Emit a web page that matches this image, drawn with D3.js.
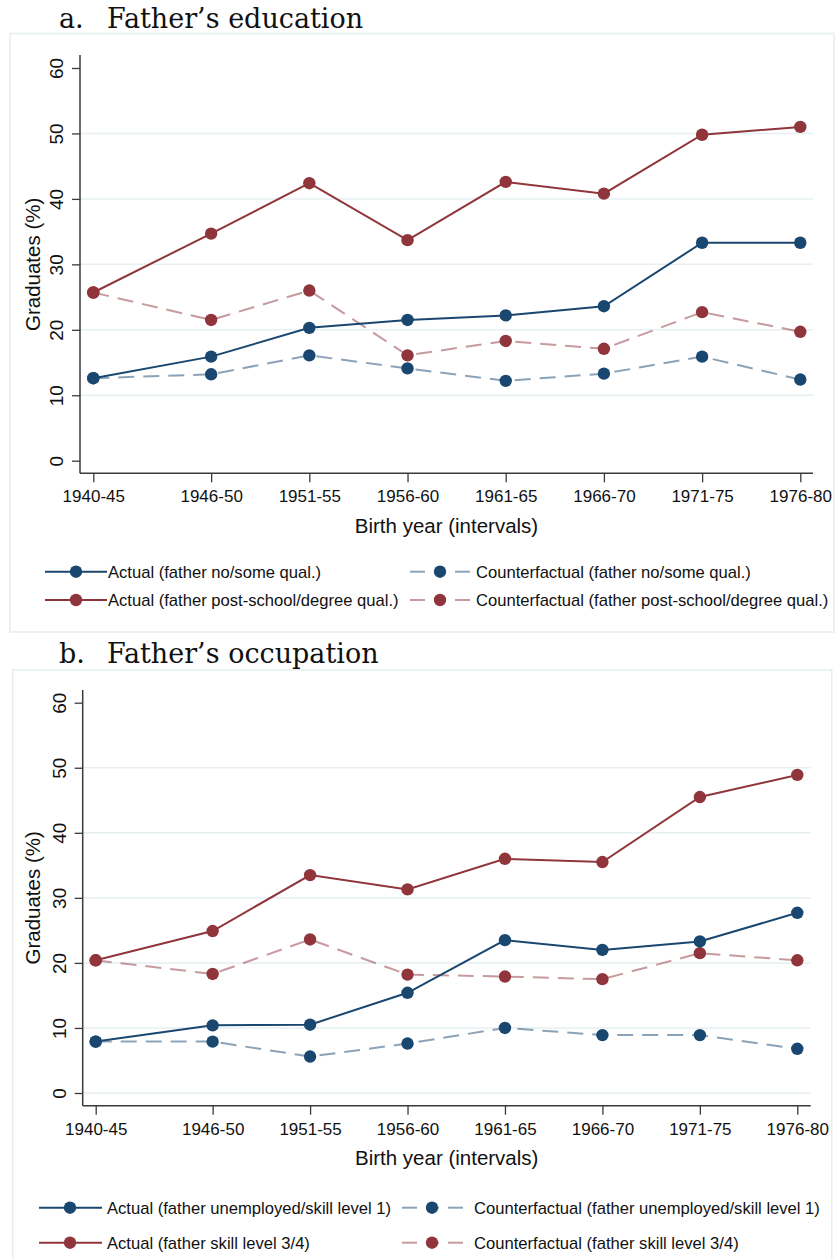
<!DOCTYPE html>
<html>
<head>
<meta charset="utf-8">
<script src="https://cdn.jsdelivr.net/npm/d3@7"></script>
<style>
  html, body { margin: 0; padding: 0; background: #fff; }
  svg { display: block; }
  text { font-family: "Liberation Sans", Arial, sans-serif; fill: #111; }
  .ptitle { font-family: "DejaVu Serif", "Liberation Serif", serif; }
</style>
</head>
<body>
<svg id="chart" width="835" height="1259"></svg>
<script>
// ---------------- data ----------------
const categories = ["1940-45", "1946-50", "1951-55", "1956-60", "1961-65", "1966-70", "1971-75", "1976-80"];
const startYears = [1940, 1946, 1951, 1956, 1961, 1966, 1971, 1976];
const yTicks = [0, 10, 20, 30, 40, 50, 60];

// Panel a: Father's education
const eduActualLow  = [12.6, 15.9, 20.3, 21.5, 22.2, 23.6, 33.3, 33.3];
const eduActualHigh = [25.7, 34.7, 42.4, 33.7, 42.6, 40.8, 49.8, 51.0];
const eduCfLow      = [12.6, 13.2, 16.1, 14.1, 12.2, 13.3, 15.9, 12.4];
const eduCfHigh     = [25.7, 21.5, 26.0, 16.1, 18.3, 17.1, 22.7, 19.7];
const eduLegend = [
  "Actual (father no/some qual.)",
  "Counterfactual (father no/some qual.)",
  "Actual (father post-school/degree qual.)",
  "Counterfactual (father post-school/degree qual.)"
];

// Panel b: Father's occupation
const occActualLow  = [7.9, 10.4, 10.5, 15.4, 23.5, 22.0, 23.3, 27.7];
const occActualHigh = [20.4, 24.9, 33.5, 31.3, 36.0, 35.5, 45.5, 48.9];
const occCfLow      = [7.9, 7.9, 5.6, 7.6, 10.0, 8.9, 8.9, 6.8];
const occCfHigh     = [20.4, 18.3, 23.6, 18.2, 17.9, 17.5, 21.5, 20.4];
const occLegend = [
  "Actual (father unemployed/skill level 1)",
  "Counterfactual (father unemployed/skill level 1)",
  "Actual (father skill level 3/4)",
  "Counterfactual (father skill level 3/4)"
];

const panelTitles = [["a.", "Father\u2019s education"], ["b.", "Father\u2019s occupation"]];
const xTitle = "Birth year (intervals)";
const yTitle = "Graduates (%)";

// ---------------- styles ----------------
const NAVY = "#1a476f", MAROON = "#90353b";
const GRID = "#e6eff1", AXIS = "#3a3a3a", FRAME = "#e4eef0";

const svg = d3.select("#chart");

function drawPanel(cfg) {
  const g = svg.append("g");
  // frame
  g.append("rect").attr("x", cfg.frame[0]).attr("y", cfg.frame[1])
    .attr("width", cfg.frame[2] - cfg.frame[0]).attr("height", cfg.frame[3] - cfg.frame[1])
    .attr("fill", "#fff").attr("stroke", FRAME).attr("stroke-width", 1.5);
  // title
  const t = g.append("text").attr("class", "ptitle").attr("font-size", 27).attr("y", cfg.titleY);
  t.append("tspan").attr("x", 59).text(cfg.title[0]);
  t.append("tspan").attr("x", 107).text(cfg.title[1]);

  const x = d3.scaleLinear().domain([1940, 1976]).range(cfg.xr);
  const y = d3.scaleLinear().domain([0, 60]).range(cfg.yr);

  // grid
  g.append("g").selectAll("line").data(cfg.grid).join("line")
    .attr("x1", cfg.axisX).attr("x2", cfg.axisRight)
    .attr("y1", d => y(d)).attr("y2", d => y(d))
    .attr("stroke", GRID).attr("stroke-width", 1.5);

  // y axis
  const ya = g.append("g").attr("transform", `translate(${cfg.axisX},0)`)
    .call(d3.axisLeft(y).tickValues(yTicks).tickSize(8).tickSizeOuter(0));
  ya.select(".domain").remove();
  ya.selectAll(".tick line").attr("stroke", AXIS).attr("stroke-width", 1.3);
  ya.selectAll(".tick text").attr("x", null).attr("dy", null).attr("y", null)
    .attr("transform", "translate(-17,0) rotate(-90)")
    .attr("text-anchor", "middle").attr("font-size", 19).attr("fill", "#111")
    .style("font-family", "'Liberation Sans', Arial, sans-serif");
  g.append("line").attr("x1", cfg.axisX).attr("x2", cfg.axisX)
    .attr("y1", cfg.axisTop).attr("y2", cfg.axisBottom)
    .attr("stroke", AXIS).attr("stroke-width", 1.5);

  // x axis
  const xa = g.append("g").attr("transform", `translate(0,${cfg.axisBottom})`)
    .call(d3.axisBottom(x).tickValues(startYears)
      .tickFormat((d, i) => categories[i]).tickSize(9).tickSizeOuter(0));
  xa.select(".domain").remove();
  xa.selectAll(".tick line").attr("stroke", AXIS).attr("stroke-width", 1.3);
  xa.selectAll(".tick text").attr("y", 29).attr("dy", null)
    .attr("font-size", 17).attr("fill", "#111")
    .style("font-family", "'Liberation Sans', Arial, sans-serif");
  g.append("line").attr("x1", cfg.axisX).attr("x2", cfg.axisRight)
    .attr("y1", cfg.axisBottom).attr("y2", cfg.axisBottom)
    .attr("stroke", AXIS).attr("stroke-width", 1.5);

  // axis titles
  g.append("text").attr("x", (cfg.axisX + cfg.axisRight) / 2).attr("y", cfg.xTitleY)
    .attr("text-anchor", "middle").attr("font-size", 20.5).text(xTitle);
  g.append("text").attr("transform", `translate(40,${(cfg.yr[0] + cfg.yr[1]) / 2}) rotate(-90)`)
    .attr("text-anchor", "middle").attr("font-size", 20.5).text(yTitle);

  // series: draw counterfactual first, then actual
  const line = d3.line().x((d, i) => x(startYears[i])).y(d => y(d));
  const series = [
    { v: cfg.cfLow, c: NAVY, dash: true },
    { v: cfg.cfHigh, c: MAROON, dash: true },
    { v: cfg.actLow, c: NAVY, dash: false },
    { v: cfg.actHigh, c: MAROON, dash: false }
  ];
  series.forEach(s => {
    g.append("path").attr("d", line(s.v)).attr("fill", "none")
      .attr("stroke", s.c).attr("stroke-width", 2)
      .attr("stroke-opacity", s.dash ? 0.5 : 1)
      .attr("stroke-dasharray", s.dash ? "16,9" : null);
    g.append("g").selectAll("circle").data(s.v).join("circle")
      .attr("cx", (d, i) => x(startYears[i])).attr("cy", d => y(d))
      .attr("r", 6.2).attr("fill", s.c);
  });

  // legend
  const items = [
    { lab: cfg.legend[0], c: NAVY, dash: false, col: 0, row: 0 },
    { lab: cfg.legend[1], c: NAVY, dash: true, col: 1, row: 0 },
    { lab: cfg.legend[2], c: MAROON, dash: false, col: 0, row: 1 },
    { lab: cfg.legend[3], c: MAROON, dash: true, col: 1, row: 1 }
  ];
  items.forEach(it => {
    const L = cfg.leg[it.col];
    const yy = cfg.legRows[it.row];
    if (it.dash) {
      const segs = [[L.x1, L.x1 + 15], [L.x1 + 24, L.mx], [L.mx, L.x2 - 24], [L.x2 - 15, L.x2]];
      segs.forEach(sg => g.append("line").attr("x1", sg[0]).attr("x2", sg[1])
        .attr("y1", yy).attr("y2", yy).attr("stroke", it.c).attr("stroke-opacity", 0.5).attr("stroke-width", 2));
    } else {
      g.append("line").attr("x1", L.x1).attr("x2", L.x2).attr("y1", yy).attr("y2", yy)
        .attr("stroke", it.c).attr("stroke-width", 2);
    }
    g.append("circle").attr("cx", L.mx).attr("cy", yy).attr("r", 6.2).attr("fill", it.c);
    g.append("text").attr("x", L.tx).attr("y", yy + 6).attr("font-size", 16.6).text(it.lab);
  });
}

drawPanel({
  frame: [10, 33.5, 834, 632], title: panelTitles[0], titleY: 28,
  xr: [93.3, 800.3], yr: [460.7, 68], axisX: 80, axisRight: 813, axisTop: 55, axisBottom: 473.3,
  grid: [10, 20, 30, 40, 50], xTitleY: 533,
  actLow: eduActualLow, actHigh: eduActualHigh, cfLow: eduCfLow, cfHigh: eduCfHigh,
  legend: eduLegend,
  leg: [{ x1: 45, x2: 107, mx: 76, tx: 108 }, { x1: 410, x2: 470, mx: 440, tx: 476 }],
  legRows: [571.7, 600]
});

drawPanel({
  frame: [12.7, 670, 831.7, 1275], title: panelTitles[1], titleY: 663,
  xr: [95.7, 797.3], yr: [1093, 702.7], axisX: 82.7, axisRight: 810.7, axisTop: 690, axisBottom: 1105.7,
  grid: [0, 10, 20, 30, 40, 50], xTitleY: 1165,
  actLow: occActualLow, actHigh: occActualHigh, cfLow: occCfLow, cfHigh: occCfHigh,
  legend: occLegend,
  leg: [{ x1: 39, x2: 102, mx: 70, tx: 107 }, { x1: 402, x2: 463, mx: 432, tx: 474 }],
  legRows: [1207.7, 1242.7]
});
</script>
</body>
</html>
